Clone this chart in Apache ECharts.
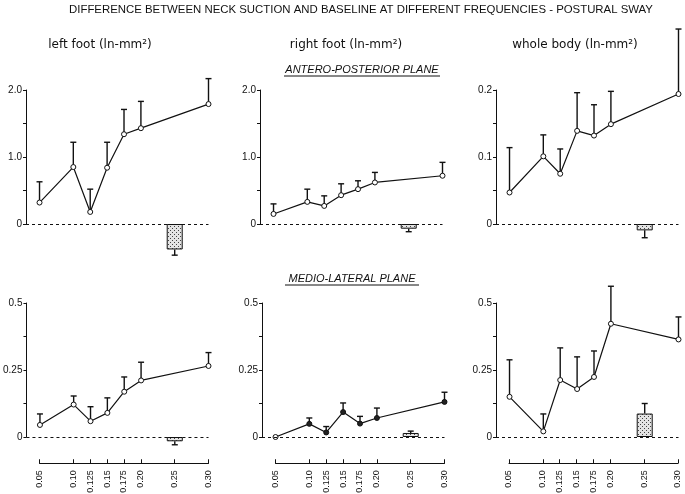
<!DOCTYPE html>
<html>
<head>
<meta charset="utf-8">
<script src="https://cdn.jsdelivr.net/npm/echarts@6/dist/echarts.min.js"></script>
<style>
  html, body { margin: 0; padding: 0; background: #fff; }
  #chart { width: 685px; height: 494px; }
</style>
</head>
<body>
<div id="chart"></div>
<script>
// frequencies (Hz) of the line points; 0.25 is drawn as a bar
const freqs = [0.05, 0.10, 0.125, 0.15, 0.175, 0.20, 0.30];
const barFreq = 0.25;
const tickFreqs = [0.05, 0.10, 0.125, 0.15, 0.175, 0.20, 0.25, 0.30];
const tickLabels = ["0.05", "0.10", "0.125", "0.15", "0.175", "0.20", "0.25", "0.30"];

// y tick labels (every other tick is unlabelled)
const apYLabels = ["0", "", "1.0", "", "2.0"];
const wholeApYLabels = ["0", "", "0.1", "", "0.2"];
const mlYLabels = ["0", "", "0.25", "", "0.5"];

// antero-posterior plane
const apLeftMean = [0.32, 0.85, 0.18, 0.84, 1.34, 1.43, 1.79];
const apLeftErr = [0.31, 0.37, 0.34, 0.38, 0.37, 0.40, 0.38];
const apLeftBar = -0.38;
const apLeftBarErr = 0.085;

const apRightMean = [0.15, 0.33, 0.27, 0.43, 0.52, 0.62, 0.72];
const apRightErr = [0.15, 0.19, 0.15, 0.17, 0.125, 0.15, 0.20];
const apRightBar = -0.07;
const apRightBarErr = 0.045;

const apWholeMean = [0.047, 0.101, 0.075, 0.139, 0.132, 0.149, 0.194];
const apWholeErr = [0.067, 0.032, 0.037, 0.057, 0.046, 0.049, 0.097];
const apWholeBar = -0.0095;
const apWholeBarErr = 0.011;

// medio-lateral plane
const mlLeftMean = [0.045, 0.121, 0.059, 0.090, 0.169, 0.211, 0.265];
const mlLeftErr = [0.041, 0.032, 0.054, 0.056, 0.055, 0.068, 0.050];
const mlLeftBar = -0.016;
const mlLeftBarErr = 0.013;

const mlRightMean = [0.0, 0.049, 0.017, 0.093, 0.050, 0.071, 0.131];
const mlRightErr = [0.0, 0.022, 0.022, 0.034, 0.027, 0.037, 0.036];
const mlRightBar = 0.015;
const mlRightBarErr = 0.007;

const mlWholeMean = [0.150, 0.021, 0.2125, 0.179, 0.224, 0.4225, 0.364];
const mlWholeErr = [0.138, 0.065, 0.12, 0.12, 0.097, 0.14, 0.084];
const mlWholeBar = 0.0875;
const mlWholeBarErr = 0.0375;

const FONT = '"Liberation Sans", Arial, sans-serif';
const FONT2 = '"DejaVu Sans", sans-serif';
const INK = "#111";

const panels = [
  { mean: apLeftMean, err: apLeftErr, bar: apLeftBar, barErr: apLeftBarErr, max: 2.0, interval: 0.5, labels: apYLabels, left: 26, top: 90 },
  { mean: apRightMean, err: apRightErr, bar: apRightBar, barErr: apRightBarErr, max: 2.0, interval: 0.5, labels: apYLabels, left: 260, top: 90 },
  { mean: apWholeMean, err: apWholeErr, bar: apWholeBar, barErr: apWholeBarErr, max: 0.2, interval: 0.05, labels: wholeApYLabels, left: 496, top: 90 },
  { mean: mlLeftMean, err: mlLeftErr, bar: mlLeftBar, barErr: mlLeftBarErr, max: 0.5, interval: 0.125, labels: mlYLabels, left: 26, top: 303 },
  { mean: mlRightMean, err: mlRightErr, bar: mlRightBar, barErr: mlRightBarErr, max: 0.5, interval: 0.125, labels: mlYLabels, left: 262, top: 303, filled: true },
  { mean: mlWholeMean, err: mlWholeErr, bar: mlWholeBar, barErr: mlWholeBarErr, max: 0.5, interval: 0.125, labels: mlYLabels, left: 496, top: 303 },
];
const bottomAxisLefts = [39.5, 275.5, 509];

// stipple fill for the bars
function makeStipple() {
  const cv = document.createElement("canvas");
  cv.width = 4;
  cv.height = 4;
  const ctx = cv.getContext("2d");
  ctx.fillStyle = "#e4e4e4";
  ctx.fillRect(0, 0, 4, 4);
  ctx.fillStyle = "#444";
  ctx.fillRect(0, 0, 1, 1);
  ctx.fillRect(2, 2, 1, 1);
  return cv;
}
const stipple = makeStipple();

function renderErrBar(params, api) {
  const e = api.value(2);
  if (!e) return null;
  const p0 = api.coord([api.value(0), api.value(1)]);
  const p1 = api.coord([api.value(0), api.value(1) + e]);
  const style = { stroke: INK, lineWidth: 1.4 };
  return {
    type: "group",
    children: [
      { type: "line", shape: { x1: p0[0], y1: p0[1], x2: p1[0], y2: p1[1] }, style: style },
      { type: "line", shape: { x1: p1[0] - 3, y1: p1[1], x2: p1[0] + 3, y2: p1[1] }, style: style },
    ],
  };
}

const grid = [];
const xAxis = [];
const yAxis = [];
const series = [];

panels.forEach((p, i) => {
  grid.push({ left: p.left, top: p.top, width: 182.5, height: 134 });
  xAxis.push({ type: "value", gridIndex: i, min: 0.03, max: 0.30, show: false });
  yAxis.push({
    type: "value",
    gridIndex: i,
    min: 0,
    max: p.max,
    interval: p.interval,
    axisLine: { show: true, lineStyle: { color: INK, width: 1 } },
    axisTick: { show: true, length: 3, lineStyle: { color: INK } },
    splitLine: { show: false },
    axisLabel: {
      fontFamily: FONT,
      fontSize: 10,
      color: INK,
      margin: 4,
      formatter: (v, idx) => p.labels[idx] || "",
    },
  });

  const errData = freqs.map((f, k) => [f, p.mean[k], p.err[k]]);
  errData.push([barFreq, p.bar, p.bar < 0 ? -p.barErr : p.barErr]);

  series.push({
    type: "custom",
    xAxisIndex: i,
    yAxisIndex: i,
    z: 1,
    silent: true,
    renderItem: renderErrBar,
    data: errData,
    markLine: {
      silent: true,
      symbol: "none",
      label: { show: false },
      lineStyle: { color: INK, type: [3, 3], width: 1 },
      data: [{ yAxis: 0 }],
    },
  });
  series.push({
    type: "bar",
    xAxisIndex: i,
    yAxisIndex: i,
    z: 3,
    barWidth: 16,
    clip: false,
    silent: true,
    itemStyle: {
      color: { image: stipple, repeat: "repeat" },
      borderColor: INK,
      borderWidth: 1,
    },
    data: [[barFreq, p.bar]],
  });
  series.push({
    type: "line",
    xAxisIndex: i,
    yAxisIndex: i,
    z: 4,
    silent: true,
    symbol: "circle",
    symbolSize: 5,
    lineStyle: { color: INK, width: 1.2 },
    itemStyle: { color: "#fff", borderColor: INK, borderWidth: 1 },
    data: freqs.map((f, k) =>
      p.filled && k > 0
        ? { value: [f, p.mean[k]], itemStyle: { color: "#222" } }
        : [f, p.mean[k]]
    ),
  });
});

// separate frequency axes at the bottom
bottomAxisLefts.forEach((left, j) => {
  const gi = panels.length + j;
  grid.push({ left: left, top: 463, width: 169, height: 1 });
  xAxis.push({
    type: "value",
    gridIndex: gi,
    min: 0.05,
    max: 0.30,
    axisLine: { show: true, lineStyle: { color: INK, width: 1 } },
    axisTick: { show: true, inside: true, length: 4, customValues: tickFreqs, lineStyle: { color: INK } },
    splitLine: { show: false },
    axisLabel: {
      customValues: tickFreqs,
      rotate: 90,
      margin: 7,
      fontFamily: FONT,
      fontSize: 9,
      color: INK,
      formatter: (v) => tickLabels[tickFreqs.findIndex((t) => Math.abs(t - v) < 1e-6)] || "",
    },
  });
  yAxis.push({ type: "value", gridIndex: gi, show: false });
});

function label(text, x, y, font) {
  return {
    type: "text",
    x: x,
    y: y,
    silent: true,
    style: {
      text: text,
      font: font,
      fill: INK,
      textAlign: "center",
      textVerticalAlign: "middle",
    },
  };
}
function underline(x1, x2, y) {
  return { type: "line", silent: true, shape: { x1: x1, y1: y, x2: x2, y2: y }, style: { stroke: INK, lineWidth: 1 } };
}

const chart = echarts.init(document.getElementById("chart"));
chart.setOption({
  animation: false,
  backgroundColor: "#fff",
  grid: grid,
  xAxis: xAxis,
  yAxis: yAxis,
  series: series,
  graphic: [
    label("DIFFERENCE BETWEEN NECK SUCTION AND BASELINE AT DIFFERENT FREQUENCIES - POSTURAL SWAY", 361, 10, "11.4px " + FONT),
    label("left foot (ln-mm²)", 100, 45, "12px " + FONT2),
    label("right foot (ln-mm²)", 346, 45, "12px " + FONT2),
    label("whole body (ln-mm²)", 575, 45, "12px " + FONT2),
    label("ANTERO-POSTERIOR PLANE", 362, 70, "italic 11px " + FONT),
    underline(284, 440, 76),
    label("MEDIO-LATERAL PLANE", 352, 279, "italic 11px " + FONT),
    underline(285, 419, 285),
  ],
});
</script>
</body>
</html>
